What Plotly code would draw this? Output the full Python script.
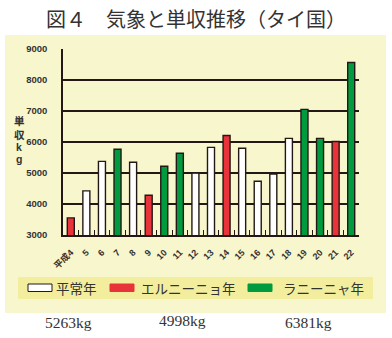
import plotly.graph_objects as go

years = ["平成4", "5", "6", "7", "8", "9", "10", "11", "12", "13", "14",
         "15", "16", "17", "18", "19", "20", "21", "22"]
yields = [3550, 4420, 5370, 5760, 5340, 4280, 5210, 5630, 4990, 5820, 6200,
          5790, 4730, 4960, 6110, 7040, 6110, 6010, 8550]
kinds = ["E", "N", "N", "L", "N", "E", "L", "L", "N", "N", "E",
         "N", "N", "N", "N", "L", "L", "E", "L"]
legend_names = ["平常年", "エルニーニョ年", "ラニーニャ年"]
legend_kinds = ["N", "E", "L"]
averages = ["5263kg", "4998kg", "6381kg"]
y_title_chars = ["単", "収", "k", "g"]
y_ticks = [3000, 4000, 5000, 6000, 7000, 8000, 9000]

colors = {"N": "#FFFFFF", "E": "#E8333B", "L": "#009B3F"}
W, H = 392, 338
INK = "#231815"
TXT = "#333333"

def px(x):
    return x / W

def py(y):
    return 1 - y / H

fig = go.Figure()
fig.add_trace(go.Bar(
    x=years, y=yields,
    marker=dict(color=[colors[k] for k in kinds], line=dict(color=INK, width=1.4)),
    showlegend=False,
))

shapes = [
    dict(type="rect", xref="paper", yref="paper", x0=px(5), x1=px(386), y0=py(313), y1=py(35),
         fillcolor="#F8F6CC", line=dict(width=0), layer="below"),
    dict(type="rect", xref="paper", yref="paper", x0=px(18), x1=px(373), y0=py(299), y1=py(277),
         fillcolor="#F2EE9D", line=dict(width=0), layer="below"),
]
annotations = []
leg_box_x = [28, 110, 248]
leg_text_x = [54, 139, 281]
for i, (name, k) in enumerate(zip(legend_names, legend_kinds)):
    shapes.append(dict(type="rect", xref="paper", yref="paper",
                       x0=px(leg_box_x[i]), x1=px(leg_box_x[i] + 24),
                       y0=py(291.5), y1=py(284),
                       fillcolor=colors[k], line=dict(color=INK if k == "N" else colors[k], width=1)))
    annotations.append(dict(xref="paper", yref="paper", x=px(leg_text_x[i]), y=py(288),
                            xanchor="left", yanchor="middle", showarrow=False, text=name,
                            font=dict(family="Noto Sans CJK JP", size=13.5, color=TXT)))

annotations.append(dict(xref="paper", yref="paper", x=0.5, y=py(19), xanchor="center",
                        yanchor="middle", showarrow=False,
                        text="図４　気象と単収推移（タイ国）",
                        font=dict(family="Noto Sans CJK JP", size=20, color=TXT)))
title_y = [120, 134.5, 147.5, 159]
title_fonts = ["Noto Sans CJK JP", "Noto Sans CJK JP", "Liberation Sans", "Liberation Sans"]
for ch, y, fam in zip(y_title_chars, title_y, title_fonts):
    annotations.append(dict(xref="paper", yref="paper", x=px(19), y=py(y), xanchor="center",
                            yanchor="middle", showarrow=False, text=ch, borderpad=0,
                            font=dict(family=fam, size=10.5, color=TXT, weight="bold")))
avg_x = [68, 182, 308]
avg_y = [322, 320, 322]
for t, x, y in zip(averages, avg_x, avg_y):
    annotations.append(dict(xref="paper", yref="paper", x=px(x), y=py(y), xanchor="center",
                            yanchor="middle", showarrow=False, text=t,
                            font=dict(family="Liberation Serif", size=15.5, color=TXT)))

fig.update_layout(
    template="none",
    width=W, height=H,
    margin=dict(l=0, r=0, t=0, b=0, pad=0),
    paper_bgcolor="#FFFFFF",
    plot_bgcolor="#FFFFFF",
    bargap=0.55,
    shapes=shapes,
    annotations=annotations,
    xaxis=dict(domain=[px(63), px(359)], type="category", automargin=False,
               showline=True, linecolor=INK,
               linewidth=1.5, ticks="inside", tickson="boundaries", ticklen=5,
               tickcolor=INK, tickwidth=1, tickangle=-45, ticklabelstandoff=7,
               tickfont=dict(family="Liberation Sans, Noto Sans CJK JP", size=9, color=TXT, weight="bold"),
               showgrid=False, zeroline=False, fixedrange=True),
    yaxis=dict(domain=[py(235), py(48.5)], range=[3000, 9000], tickvals=y_ticks, automargin=False,
               showline=True, linecolor=INK, linewidth=1.5, showgrid=True, gridcolor=INK,
               gridwidth=1.5, ticks="", ticklabelstandoff=12,
               tickfont=dict(family="Liberation Sans", size=9.5, color=TXT, weight="bold"),
               zeroline=False, fixedrange=True),
)

fig.write_html("out.html")
